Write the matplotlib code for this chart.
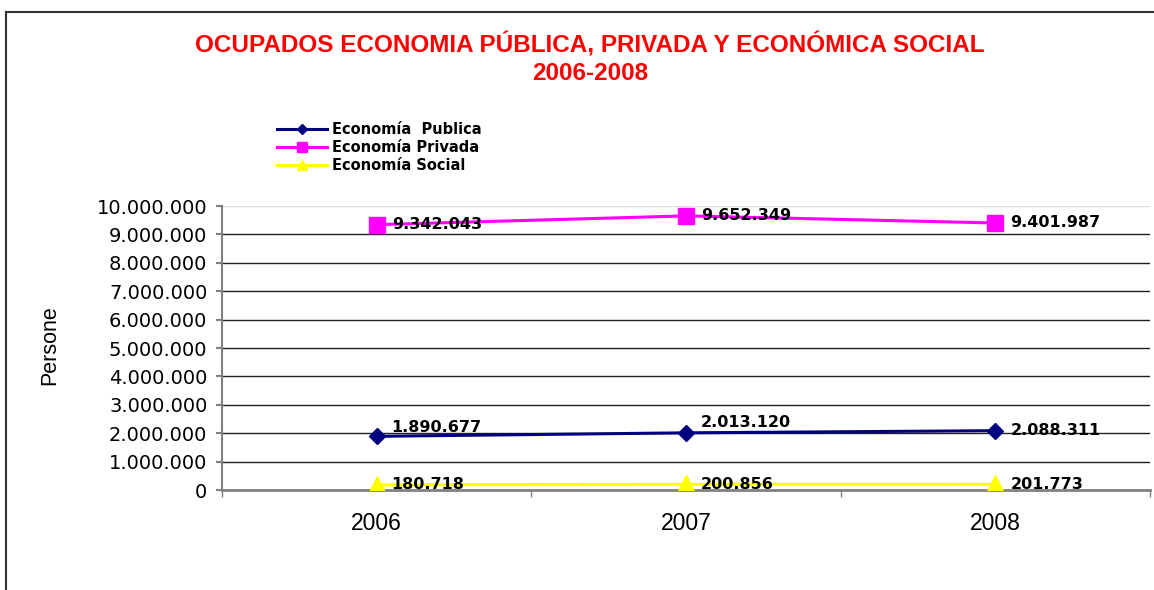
import matplotlib.pyplot as plt
from matplotlib.lines import Line2D
from matplotlib.ticker import FuncFormatter, FixedLocator

years = ["2006", "2007", "2008"]
publica = [1890677, 2013120, 2088311]
privada = [9342043, 9652349, 9401987]
social = [180718, 200856, 201773]
series_names = ["Economía  Publica", "Economía Privada", "Economía Social"]

def miles(v, pos=None):
    return f"{int(v):,}".replace(",", ".")

fig = plt.figure(figsize=(11.54, 5.90), dpi=100)
ax = fig.add_axes([222/1154, 1-490/590, 928/1154, 284/590])

x = list(range(len(years)))
styles = [
    (publica, "#000080", "D", 8.5, [9, 10, 0]),
    (privada, "#FF00FF", "s", 11.5, [0, 0, 0]),
    (social, "#FFFF00", "^", 12.5, [0, 0, 0]),
]
handles = []
for (vals, col, mk, ms, dy), name in zip(styles, series_names):
    ax.plot(x, vals, color=col, lw=2.2, marker=mk, markersize=ms, zorder=3)
    handles.append(Line2D([], [], color=col, lw=2.2, marker=mk, markersize=ms*0.6))
    for xi, v, d in zip(x, vals, dy):
        ax.annotate(miles(v), (xi, v), xytext=(15, d), textcoords="offset pixels",
                    ha="left", va="center", fontsize=11.5, fontweight="bold",
                    family="DejaVu Sans", color="black", zorder=4)

ax.set_xlim(-0.5, 2.5)
ax.set_ylim(0, 10000000)
ax.set_yticks(range(0, 10000001, 1000000))
ax.yaxis.set_major_formatter(FuncFormatter(miles))
for g in range(1000000, 10000001, 1000000):
    ax.axhline(g, color="#dddddd" if g == 10000000 else "#222222", lw=1, zorder=1)

ax.set_xticks(x)
ax.set_xticklabels(years, family="Liberation Sans", fontsize=16.5)
ax.xaxis.set_minor_locator(FixedLocator([-0.5, 0.5, 1.5, 2.5]))
ax.tick_params(axis="x", which="major", length=0, pad=16)
ax.tick_params(axis="x", which="minor", length=5, color="#808080", width=1)
ax.tick_params(axis="y", length=4.5, color="#808080", width=1.5, pad=6, labelsize=14)

for s in ["top", "right"]:
    ax.spines[s].set_visible(False)
ax.spines["left"].set_color("#808080")
ax.spines["left"].set_linewidth(1.5)
ax.spines["bottom"].set_color("#808080")
ax.spines["bottom"].set_linewidth(2)
ax.spines["bottom"].set_zorder(2)

fig.text(50/1154, 0.415, "Persone", rotation=90, ha="center", va="center",
         family="Liberation Sans", fontsize=15.5)

fig.text(590/1154, 1-59/590,
         "OCUPADOS ECONOMIA PÚBLICA, PRIVADA Y ECONÓMICA SOCIAL\n2006-2008",
         ha="center", va="center", color="#FF0000", fontsize=17.5,
         fontweight="bold", family="Liberation Sans", linespacing=1.25)

fig.legend(handles, series_names, loc="upper left",
           bbox_to_anchor=(277/1154, 1-122/590), frameon=False,
           prop={"family": "DejaVu Sans", "weight": "bold", "size": 10.5},
           handlelength=3.4, handletextpad=0.4, labelspacing=0.2,
           borderpad=0, borderaxespad=0)

fig.add_artist(Line2D([6/1154, 6/1154], [0, 1-12/590], color="#333333", lw=1.5))
fig.add_artist(Line2D([6/1154, 1], [1-12/590, 1-12/590], color="#333333", lw=1.5))

fig.savefig("out.png", dpi=100)
